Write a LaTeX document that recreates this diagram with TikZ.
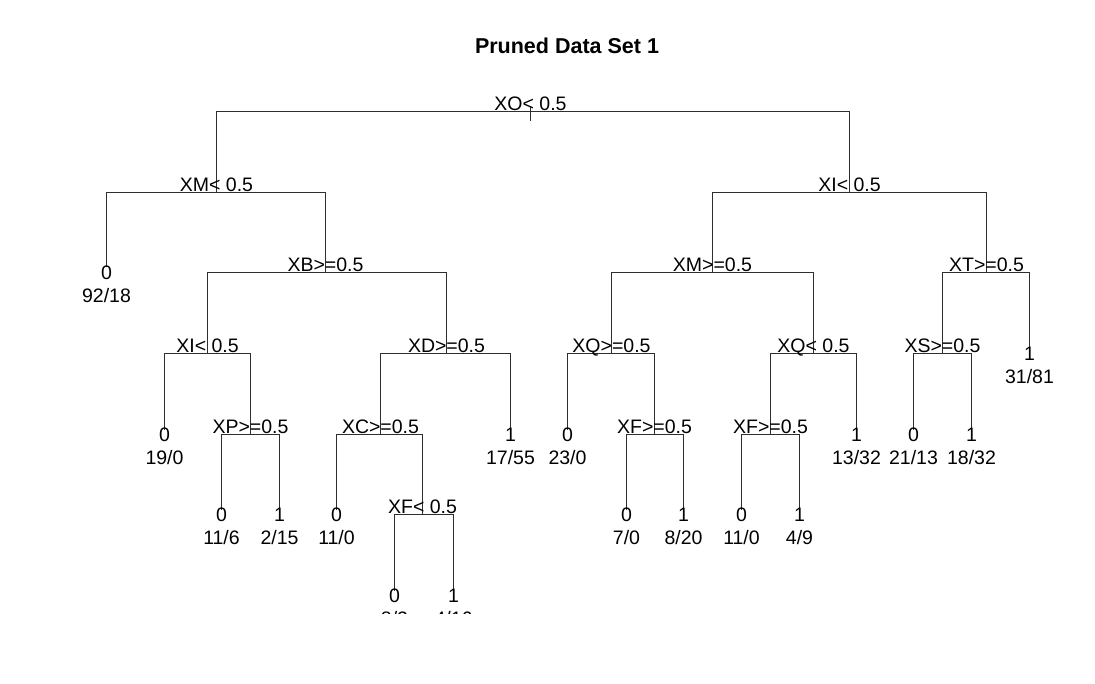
\documentclass[tikz,border=0pt]{standalone}
\usepackage{fontspec}
\setmainfont{Liberation Sans}
\begin{document}
\begin{tikzpicture}[x=1pt,y=-1pt,
  edge/.style={draw=black!82, line width=1.4pt},
  split/.style={anchor=base, inner sep=0pt, font=\fontsize{19.5}{20}\selectfont, text=black},
  cls/.style={anchor=base, inner sep=0pt, font=\fontsize{19.5}{20}\selectfont, text=black},
  cnt/.style={anchor=base, inner sep=0pt, font=\fontsize{19.5}{20}\selectfont, text=black},
  ttl/.style={anchor=base, inner sep=0pt, font=\bfseries\fontsize{21.5}{22}\selectfont, text=black}]
\useasboundingbox (0,0) rectangle (1095,684);
\fill[white] (0,0) rectangle (1095,684);
\node[ttl] (title) at (567,54) {Pruned Data Set 1};
\begin{scope}
\clip (0,0) rectangle (1095,613.5);
% internal nodes
\coordinate (r)   at (530.5,111.5);
\coordinate (xm)  at (216.5,192.5);
\coordinate (xi)  at (849.5,192.5);
\coordinate (xb)  at (325.5,272.5);
\coordinate (xm2) at (712.5,272.5);
\coordinate (xt)  at (986.5,272.5);
\coordinate (xi2) at (207.5,353.5);
\coordinate (xd)  at (446.5,353.5);
\coordinate (xq)  at (611.5,353.5);
\coordinate (xq2) at (813.5,353.5);
\coordinate (xs)  at (942.5,353.5);
\coordinate (xp)  at (250.5,434.5);
\coordinate (xc)  at (380.5,434.5);
\coordinate (xf2) at (654.5,434.5);
\coordinate (xf3) at (770.5,434.5);
\coordinate (xf)  at (422.5,514.5);
% leaf line ends
\coordinate (la) at (106.5,267.5);
\coordinate (lb) at (164.5,429.5);
\coordinate (lc) at (221.5,509.5);
\coordinate (ld) at (279.5,509.5);
\coordinate (le) at (510.5,429.5);
\coordinate (lf) at (336.5,509.5);
\coordinate (lg) at (394.5,590.5);
\coordinate (lh) at (453.5,590.5);
\coordinate (li) at (567.5,429.5);
\coordinate (lj) at (626.5,509.5);
\coordinate (lk) at (683.5,509.5);
\coordinate (ll) at (856.5,429.5);
\coordinate (lm) at (741.5,509.5);
\coordinate (ln) at (799.5,509.5);
\coordinate (lo) at (1029.5,348.5);
\coordinate (lp) at (913.5,429.5);
\coordinate (lq) at (971.5,429.5);
\coordinate (rtop) at (530.5,106);
\coordinate (rbot) at (530.5,121.5);
% connectors
\draw[edge] (rtop) -- (rbot);
\draw[edge] (xm) |- (r) -| (xi);
\draw[edge] (la) |- (xm) -| (xb);
\draw[edge] (xi2) |- (xb) -| (xd);
\draw[edge] (lb) |- (xi2) -| (xp);
\draw[edge] (lc) |- (xp) -| (ld);
\draw[edge] (xc) |- (xd) -| (le);
\draw[edge] (lf) |- (xc) -| (xf);
\draw[edge] (lg) |- (xf) -| (lh);
\draw[edge] (xm2) |- (xi) -| (xt);
\draw[edge] (xq) |- (xm2) -| (xq2);
\draw[edge] (li) |- (xq) -| (xf2);
\draw[edge] (lj) |- (xf2) -| (lk);
\draw[edge] (xf3) |- (xq2) -| (ll);
\draw[edge] (lm) |- (xf3) -| (ln);
\draw[edge] (xs) |- (xt) -| (lo);
\draw[edge] (lp) |- (xs) -| (lq);
% split labels
\node[split] (tr)   at ([yshift=1pt]r)   {XO< 0.5};
\node[split] (txm)  at ([yshift=1pt]xm)  {XM< 0.5};
\node[split] (txi)  at ([yshift=1pt]xi)  {XI< 0.5};
\node[split] (txb)  at ([yshift=1pt]xb)  {XB>=0.5};
\node[split] (txm2) at ([yshift=1pt]xm2) {XM>=0.5};
\node[split] (txt)  at ([yshift=1pt]xt)  {XT>=0.5};
\node[split] (txi2) at ([yshift=1pt]xi2) {XI< 0.5};
\node[split] (txd)  at ([yshift=1pt]xd)  {XD>=0.5};
\node[split] (txq)  at ([yshift=1pt]xq)  {XQ>=0.5};
\node[split] (txq2) at ([yshift=1pt]xq2) {XQ< 0.5};
\node[split] (txs)  at ([yshift=1pt]xs)  {XS>=0.5};
\node[split] (txp)  at ([yshift=1pt]xp)  {XP>=0.5};
\node[split] (txc)  at ([yshift=1pt]xc)  {XC>=0.5};
\node[split] (txf2) at ([yshift=1pt]xf2) {XF>=0.5};
\node[split] (txf3) at ([yshift=1pt]xf3) {XF>=0.5};
\node[split] (txf)  at ([yshift=1pt]xf)  {XF< 0.5};
% leaf labels (class, counts)
\node[cls] (ca) at ([yshift=-12pt]la) {0}; \node[cnt] (na) at ([yshift=-35pt]la) {92/18};
\node[cls] (cb) at ([yshift=-12pt]lb) {0}; \node[cnt] (nb) at ([yshift=-35pt]lb) {19/0};
\node[cls] (cc) at ([yshift=-12pt]lc) {0}; \node[cnt] (nc) at ([yshift=-35pt]lc) {11/6};
\node[cls] (cd) at ([yshift=-12pt]ld) {1}; \node[cnt] (nd) at ([yshift=-35pt]ld) {2/15};
\node[cls] (ce) at ([yshift=-12pt]le) {1}; \node[cnt] (ne) at ([yshift=-35pt]le) {17/55};
\node[cls] (cf) at ([yshift=-12pt]lf) {0}; \node[cnt] (nf) at ([yshift=-35pt]lf) {11/0};
\node[cls] (cg) at ([yshift=-12pt]lg) {0}; \node[cnt] (ng) at ([yshift=-35pt]lg) {8/2};
\node[cls] (ch) at ([yshift=-12pt]lh) {1}; \node[cnt] (nh) at ([yshift=-35pt]lh) {4/16};
\node[cls] (ci) at ([yshift=-12pt]li) {0}; \node[cnt] (ni) at ([yshift=-35pt]li) {23/0};
\node[cls] (cj) at ([yshift=-12pt]lj) {0}; \node[cnt] (nj) at ([yshift=-35pt]lj) {7/0};
\node[cls] (ck) at ([yshift=-12pt]lk) {1}; \node[cnt] (nk) at ([yshift=-35pt]lk) {8/20};
\node[cls] (cl) at ([yshift=-12pt]ll) {1}; \node[cnt] (nl) at ([yshift=-35pt]ll) {13/32};
\node[cls] (cm) at ([yshift=-12pt]lm) {0}; \node[cnt] (nm) at ([yshift=-35pt]lm) {11/0};
\node[cls] (cn) at ([yshift=-12pt]ln) {1}; \node[cnt] (nn) at ([yshift=-35pt]ln) {4/9};
\node[cls] (co) at ([yshift=-12pt]lo) {1}; \node[cnt] (no) at ([yshift=-35pt]lo) {31/81};
\node[cls] (cp) at ([yshift=-12pt]lp) {0}; \node[cnt] (np) at ([yshift=-35pt]lp) {21/13};
\node[cls] (cq) at ([yshift=-12pt]lq) {1}; \node[cnt] (nq) at ([yshift=-35pt]lq) {18/32};
\end{scope}
\end{tikzpicture}
\end{document}
